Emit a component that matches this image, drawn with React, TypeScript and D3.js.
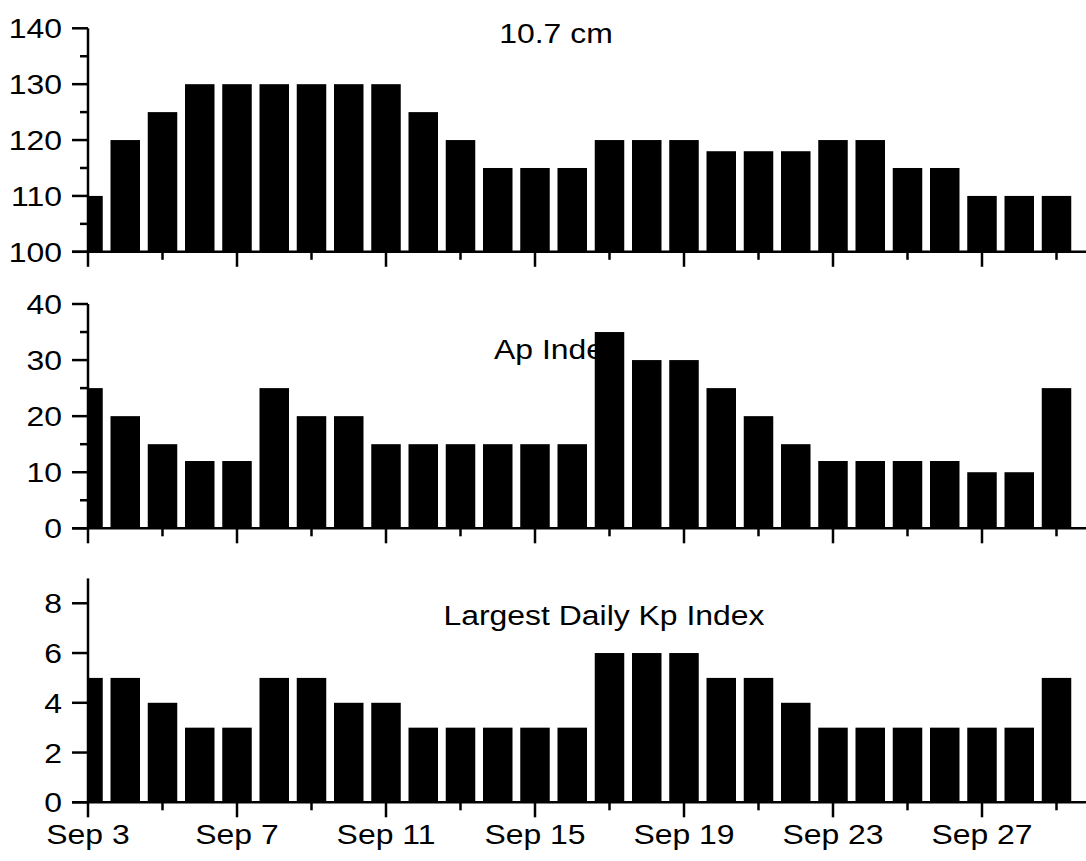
import React from "react";
import * as d3 from "d3";

// ---- data ----
const days: number[] = [3, 4, 5, 6, 7, 8, 9, 10, 11, 12, 13, 14, 15, 16, 17, 18, 19, 20, 21, 22, 23, 24, 25, 26, 27, 28, 29];
const flux: number[] = [110, 120, 125, 130, 130, 130, 130, 130, 130, 125, 120, 115, 115, 115, 120, 120, 120, 118, 118, 118, 120, 120, 115, 115, 110, 110, 110];
const apIndex: number[] = [25, 20, 15, 12, 12, 25, 20, 20, 15, 15, 15, 15, 15, 15, 35, 30, 30, 25, 20, 15, 12, 12, 12, 12, 10, 10, 25];
const kpIndex: number[] = [5, 5, 4, 3, 3, 5, 5, 4, 4, 3, 3, 3, 3, 3, 6, 6, 6, 5, 5, 4, 3, 3, 3, 3, 3, 3, 5];
const xMajorTicks: number[] = [3, 7, 11, 15, 19, 23, 27];
const xMinorTicks: number[] = [5, 9, 13, 17, 21, 25, 29];
const xTickLabels: string[] = ["Sep 3", "Sep 7", "Sep 11", "Sep 15", "Sep 19", "Sep 23", "Sep 27"];

const W = 1086;
const H = 861;
const FONT = "'Liberation Sans', Arial, sans-serif";
const FS = 28;
const SX = 1.14;

const x = d3.scaleLinear().domain([3, 29]).range([88, 1056.5]);
const AXIS_X = 88;
const RIGHT = 1090;
const BAR_W = 29.5;

type Panel = {
  title: string;
  values: number[];
  domain: [number, number];
  range: [number, number];
  majors: number[];
  minors: number[];
  titleX: number;
  titleY: number;
  labels: boolean;
};

const panels: Panel[] = [
  { title: "10.7 cm", values: flux, domain: [100, 140], range: [251.8, 28.3], majors: [100, 110, 120, 130, 140], minors: [105, 115, 125, 135], titleX: 556, titleY: 43, labels: false },
  { title: "Ap Index", values: apIndex, domain: [0, 40], range: [528.3, 304], majors: [0, 10, 20, 30, 40], minors: [5, 15, 25, 35], titleX: 557, titleY: 359, labels: false },
  { title: "Largest Daily Kp Index", values: kpIndex, domain: [0, 9], range: [802.3, 578.4], majors: [0, 2, 4, 6, 8], minors: [], titleX: 604, titleY: 625, labels: true },
];

function Txt(props: { x: number; y: number; anchor: string; children: string }) {
  return (
    <text
      transform={`translate(${props.x},${props.y}) scale(${SX},1)`}
      textAnchor={props.anchor}
      fontFamily={FONT}
      fontSize={FS}
      fill="#000"
    >
      {props.children}
    </text>
  );
}

function PanelView({ p, i }: { p: Panel; i: number }) {
  const y = d3.scaleLinear().domain(p.domain).range(p.range);
  const base = y(p.domain[0]);
  const top = y(p.domain[1]);
  return (
    <g>
      <clipPath id={`clip${i}`}>
        <rect x={AXIS_X} y={top - 5} width={RIGHT - AXIS_X} height={base - top + 5} />
      </clipPath>
      <Txt x={p.titleX} y={p.titleY} anchor="middle">{p.title}</Txt>
      <g clipPath={`url(#clip${i})`}>
        {p.values.map((v, k) => (
          <rect
            key={k}
            x={x(days[k]) - BAR_W / 2}
            y={y(v)}
            width={BAR_W}
            height={base - y(v)}
            fill="#000"
          />
        ))}
      </g>
      {/* y axis */}
      <line x1={AXIS_X} x2={AXIS_X} y1={top} y2={base} stroke="#000" strokeWidth={2.5} />
      {p.majors.map((t) => (
        <g key={`ym${t}`}>
          <line x1={AXIS_X - 16} x2={AXIS_X} y1={y(t)} y2={y(t)} stroke="#000" strokeWidth={2.5} />
          <Txt x={62} y={y(t) + 10} anchor="end">{String(t)}</Txt>
        </g>
      ))}
      {p.minors.map((t) => (
        <line key={`yn${t}`} x1={AXIS_X - 8} x2={AXIS_X} y1={y(t)} y2={y(t)} stroke="#000" strokeWidth={2.5} />
      ))}
      {/* x axis */}
      <line x1={AXIS_X - 16} x2={RIGHT} y1={base} y2={base} stroke="#000" strokeWidth={2.5} />
      {xMajorTicks.map((t, k) => (
        <g key={`xm${t}`}>
          <line x1={x(t)} x2={x(t)} y1={base} y2={base + 15} stroke="#000" strokeWidth={2.5} />
          {p.labels ? <Txt x={x(t)} y={base + 42} anchor="middle">{xTickLabels[k]}</Txt> : null}
        </g>
      ))}
      {xMinorTicks.map((t) => (
        <line key={`xn${t}`} x1={x(t)} x2={x(t)} y1={base} y2={base + 8} stroke="#000" strokeWidth={2.5} />
      ))}
    </g>
  );
}

export default function App() {
  return (
    <svg
      width={W}
      height={H}
      viewBox={`0 0 ${W} ${H}`}
      style={{ position: "absolute", left: 0, top: 0, background: "#fff" }}
    >
      <rect x={0} y={0} width={W} height={H} fill="#fff" />
      {panels.map((p, i) => (
        <PanelView key={i} p={p} i={i} />
      ))}
    </svg>
  );
}
